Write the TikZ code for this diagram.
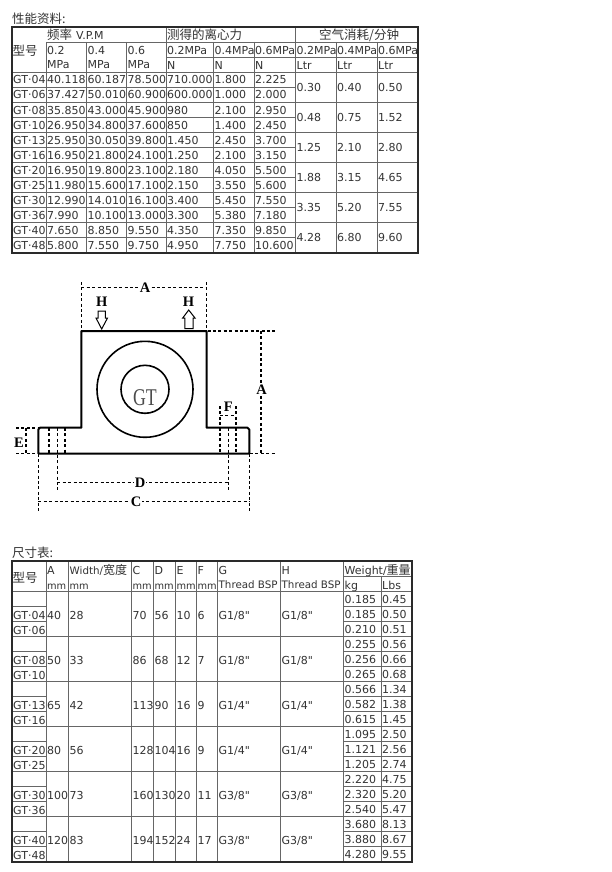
\documentclass[tikz,border=0pt]{standalone}
\usepackage{fontspec}
\newfontfamily\dv{DejaVu Sans}
\newfontfamily\cjk{Noto Sans CJK SC}
\newfontfamily\lserif{Liberation Serif}
\definecolor{txt}{HTML}{333333}
\definecolor{rule}{HTML}{666666}
\definecolor{edge}{HTML}{2A2A2A}
\tikzset{
  cell/.style={anchor=base west,inner sep=0pt,text=txt,font=\fontsize{11}{12}\dv},
  tightcell/.style={anchor=base west,inner sep=0pt,text=txt,font=\fontsize{10.3}{12}\dv},
  unitcell/.style={anchor=base west,inner sep=0pt,text=txt,font=\fontsize{9.8}{12}\dv},
  cjkcell/.style={anchor=base west,inner sep=0pt,text=txt,font=\fontsize{12.5}{14}\cjk},
  grid/.style={draw=rule,line width=0.9pt},
  border/.style={draw=edge,line width=1.6pt},
  outline/.style={draw=black,line width=2pt},
  ring/.style={draw=black,line width=1.6pt},
  dim/.style={draw=black,line width=1.4pt,dash pattern=on 3pt off 2.4pt},
  dimlabel/.style={inner sep=1.2pt,fill=white,text=black,font=\fontsize{14.5}{16}\lserif\bfseries},
  hollow/.style={draw=black,line width=1pt,fill=white,line join=miter},
}
\begin{document}
\begin{tikzpicture}[x=1pt,y=-1pt]
\useasboundingbox[fill=white] (0,0) rectangle (611,872);

% ---------- performance table ----------
\node[cjkcell] (title1) at (12,24) {性能资料:};
\foreach \x in {46,86.5,126.5,166,213.5,254,295.5,336,377}
  \draw[grid] (\x,42) -- (\x,253);
\foreach \x in {166,295.5} \draw[grid] (\x,27) -- (\x,42);
\draw[grid] (46,42) -- (418,42);
\draw[grid] (166,57) -- (418,57);
\draw[grid] (12,72) -- (418,72);
\foreach \y in {87,102,117,132,147,162,177,192,207,222,237}
  \draw[grid] (12,\y) -- (295.5,\y);
\foreach \y in {102,132,162,192,222}
  \draw[grid] (295.5,\y) -- (418,\y);
\draw[border] (12,27) rectangle (418,253);

\node[cjkcell] (h1) at (12.5,56) {型号};
\node[cjkcell] (h2) at (47,39.5) {频率\hspace{4pt}{\fontsize{11}{12}\dv V.P.M}};
\node[cjkcell] (h3) at (167,39.5) {测得的离心力};
\node[cjkcell] (h4) at (319,39.5) {空气消耗/分钟};
\foreach \x/\p [count=\i] in {47/0.2,87.5/0.4,127.5/0.6}{
  \node[cell] (ph\i) at (\x,54.5) {\p};
  \node[cell] (pm\i) at (\x,68.5) {MPa};
}
\foreach \x/\p [count=\i] in {167/0.2,214.5/0.4,255/0.6}{
  \node[cell] (fh\i) at (\x,54.5) {\p MPa};
  \node[cell] (fn\i) at (\x,69.5) {N};
}
\foreach \x/\p [count=\i] in {296.5/0.2,337/0.4,378/0.6}{
  \node[cell] (ah\i) at (\x,54.5) {\p MPa};
  \node[cell] (al\i) at (\x,69.5) {Ltr};
}
\foreach \g/\a/\b/\c/\d/\e/\f [count=\i from 0] in {
  04/40.118/60.187/78.500/710.000/1.800/2.225,
  06/37.427/50.010/60.900/600.000/1.000/2.000,
  08/35.850/43.000/45.900/980/2.100/2.950,
  10/26.950/34.800/37.600/850/1.400/2.450,
  13/25.950/30.050/39.800/1.450/2.450/3.700,
  16/16.950/21.800/24.100/1.250/2.100/3.150,
  20/16.950/19.800/23.100/2.180/4.050/5.500,
  25/11.980/15.600/17.100/2.150/3.550/5.600,
  30/12.990/14.010/16.100/3.400/5.450/7.550,
  36/7.990/10.100/13.000/3.300/5.380/7.180,
  40/7.650/8.850/9.550/4.350/7.350/9.850,
  48/5.800/7.550/9.750/4.950/7.750/10.600}{
  \pgfmathsetmacro\yy{84+15*\i}
  \node[cell] (pg\i) at (13,\yy) {GT·\g};
  \node[cell] (pa\i) at (47,\yy) {\a};
  \node[cell] (pb\i) at (87.5,\yy) {\b};
  \node[cell] (pc\i) at (127.5,\yy) {\c};
  \node[cell] (pd\i) at (167,\yy) {\d};
  \node[cell] (pe\i) at (214.5,\yy) {\e};
  \node[cell] (pf\i) at (255,\yy) {\f};
}
\foreach \a/\b/\c [count=\i from 0] in {
  0.30/0.40/0.50,0.48/0.75/1.52,1.25/2.10/2.80,
  1.88/3.15/4.65,3.35/5.20/7.55,4.28/6.80/9.60}{
  \pgfmathsetmacro\yy{91.5+30*\i}
  \node[cell] (qa\i) at (296.5,\yy) {\a};
  \node[cell] (qb\i) at (337,\yy) {\b};
  \node[cell] (qc\i) at (378,\yy) {\c};
}

% ---------- drawing ----------
\draw[outline,line join=round]
  (81.3,427.7) -- (81.3,331) -- (206.7,331) -- (206.7,427.7) -- (247.5,427.7)
  to[out=0,in=90] (249.3,429.5) -- (249.3,453.5) -- (38.3,453.5) -- (38.3,429.5)
  to[out=90,in=180] (40,427.7) -- cycle;
\coordinate (hub) at (145,389.3);
\draw[ring] (hub) circle (48);
\draw[ring] (hub) circle (24);
\node[inner sep=0pt,text=black!70,font=\fontsize{24}{26}\lserif,xscale=.74] (gt) at (145,398) {GT};

% dimension extension lines
\draw[dim] (81.3,282) -- (81.3,330);
\draw[dim] (206.7,282) -- (206.7,330);
\draw[dim] (81.3,287.5) -- (206.7,287.5);
\draw[dim] (207.5,331) -- (275,331);
\draw[dim] (250,453.5) -- (275,453.5);
\draw[dim] (261,331) -- (261,453.5);
\draw[dim] (220,406) -- (220,453);
\draw[dim] (236,406) -- (236,453);
\draw[dim] (220,415.5) -- (236,415.5);
\draw[dim] (228.7,428) -- (228.7,492.7);
\draw[dim] (49,428) -- (49,453);
\draw[dim] (65,428) -- (65,453);
\draw[dim] (57.3,428) -- (57.3,492.7);
\draw[dim] (57.3,482.3) -- (228.7,482.3);
\draw[dim] (38.3,454) -- (38.3,513);
\draw[dim] (249.3,454) -- (249.3,513);
\draw[dim] (38.3,501.7) -- (249.3,501.7);
\draw[dim] (16,428) -- (38,428);
\draw[dim] (16,453.5) -- (38,453.5);
\draw[dim] (26,428) -- (26,453.5);

\node[dimlabel] (la1) at (145,288) {A};
\node[dimlabel] (la2) at (261.5,389.5) {A};
\node[dimlabel] (lf) at (228.3,406.5) {F};
\node[dimlabel,fill=none] (le) at (19,442.7) {E};
\node[dimlabel] (ld) at (140,482.5) {D};
\node[dimlabel] (lc) at (136,502) {C};
\node[dimlabel,fill=none] (lh1) at (101.7,302) {H};
\node[dimlabel,fill=none] (lh2) at (188.5,302) {H};

\draw[hollow] (98,311) -- (105.3,311) -- (105.3,318) -- (107.5,318) -- (101.7,329)
  -- (96,318) -- (98,318) -- cycle;
\draw[hollow] (184.8,328.7) -- (193,328.7) -- (193,318) -- (195,318) -- (188.7,310)
  -- (182.7,318) -- (184.8,318) -- cycle;

% ---------- dimension table ----------
\node[cjkcell] (title2) at (12,557) {尺寸表:};
\foreach \x in {46,68.5,131.5,153.5,175.5,196.5,217.5,280.5,343.5}
  \draw[grid] (\x,561) -- (\x,862);
\draw[grid] (381,576.5) -- (381,862);
\draw[grid] (343.5,576.5) -- (412,576.5);
\foreach \y in {591,636,681,726,771,816} \draw[grid] (12,\y) -- (412,\y);
\foreach \k in {0,45,90,135,180,225}{
  \draw[grid] (12,606+\k) -- (46,606+\k);
  \draw[grid] (12,621+\k) -- (46,621+\k);
  \draw[grid] (343.5,606+\k) -- (412,606+\k);
  \draw[grid] (343.5,621+\k) -- (412,621+\k);
}
\draw[border] (12,561) rectangle (412,862);

\node[cjkcell] (k0) at (12.5,582) {型号};
\foreach \x/\t [count=\i] in {47/A,154.5/D,176.5/E,197.5/F,218.5/G,281.5/H}
  \node[cell] (ka\i) at (\x,574.5) {\t};
\node[cell] (kc) at (132.5,574.5) {C};
\node[tightcell] (kw) at (69.5,574.5) {Width/{\fontsize{12}{14}\cjk 宽度}};
\node[cell] (kg) at (344.5,574.5) {Weight/{\fontsize{12}{14}\cjk 重量}};
\foreach \x [count=\i] in {47,69.5,132.5,154.5,176.5,197.5}
  \node[unitcell] (km\i) at (\x,589) {mm};
\node[tightcell] (kt1) at (218.5,588) {Thread BSP};
\node[tightcell] (kt2) at (281.5,588) {Thread BSP};
\node[cell] (kkg) at (344.5,589) {kg};
\node[cell] (klb) at (382,589) {Lbs};

\foreach \ga/\gb/\a/\b/\c/\d/\e/\f/\p/\q [count=\i from 0] in {
  04/06/40/28/70/56/10/6/1/8,
  08/10/50/33/86/68/12/7/1/8,
  13/16/65/42/113/90/16/9/1/4,
  20/25/80/56/128/104/16/9/1/4,
  30/36/100/73/160/130/20/11/3/8,
  40/48/120/83/194/152/24/17/3/8}{
  \pgfmathsetmacro\yy{619+45*\i}
  \pgfmathsetmacro\yz{634+45*\i}
  \node[cell] (sa\i) at (13,\yy) {GT·\ga};
  \node[cell] (sb\i) at (13,\yz) {GT·\gb};
  \node[cell] (s1\i) at (47,\yy) {\a};
  \node[cell] (s2\i) at (69.5,\yy) {\b};
  \node[cell] (s3\i) at (132.5,\yy) {\c};
  \node[cell] (s4\i) at (154.5,\yy) {\d};
  \node[cell] (s5\i) at (176.5,\yy) {\e};
  \node[cell] (s6\i) at (197.5,\yy) {\f};
  \node[cell] (s7\i) at (218.5,\yy) {G\p/\q"};
  \node[cell] (s8\i) at (281.5,\yy) {G\p/\q"};
}
\foreach \k/\l [count=\i from 0] in {
  0.185/0.45,0.185/0.50,0.210/0.51,
  0.255/0.56,0.256/0.66,0.265/0.68,
  0.566/1.34,0.582/1.38,0.615/1.45,
  1.095/2.50,1.121/2.56,1.205/2.74,
  2.220/4.75,2.320/5.20,2.540/5.47,
  3.680/8.13,3.880/8.67,4.280/9.55}{
  \pgfmathsetmacro\yy{603+15*\i}
  \node[cell] (wk\i) at (344.5,\yy) {\k};
  \node[cell] (wl\i) at (382,\yy) {\l};
}
\end{tikzpicture}
\end{document}
